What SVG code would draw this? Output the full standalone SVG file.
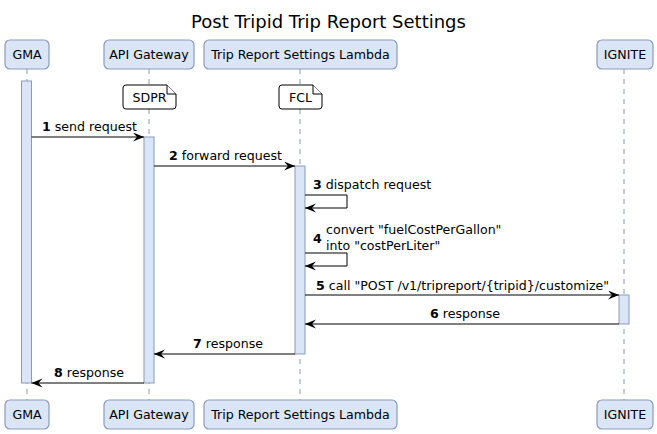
<svg xmlns="http://www.w3.org/2000/svg" width="657" height="434" viewBox="0 0 657 434">
<style>
text{font-family:"DejaVu Sans","Liberation Sans",sans-serif;font-size:12.6px;fill:#000}
.title{font-size:18px}
.box{fill:#dae6f8;stroke:#8b9bb6;stroke-width:1.2}
.act{fill:#dae6f8;stroke:#8b9bb6;stroke-width:1}
.life{stroke:#8b9bb6;stroke-width:1;stroke-dasharray:5,5}
.msg{stroke:#000;stroke-width:1;fill:none}
.note{fill:#fff;stroke:#000;stroke-width:1}
.b{font-weight:bold}
</style>
<defs>
<marker id="ah" markerUnits="userSpaceOnUse" markerWidth="12" markerHeight="10" refX="11" refY="4.5" orient="auto" viewBox="0 0 12 10">
<path d="M0,0 L11,4.5 L0,9 L4,4.5 Z" fill="#000"/>
</marker>
</defs>
<rect width="657" height="434" fill="#fff"/>
<text class="title" x="328.5" y="28" text-anchor="middle">Post Tripid Trip Report Settings</text>

<g id="lifelines">
<line class="life" x1="27" y1="69" x2="27" y2="400"/>
<line class="life" x1="149" y1="69" x2="149" y2="400"/>
<line class="life" x1="300" y1="69" x2="300" y2="400"/>
<line class="life" x1="624" y1="69" x2="624" y2="400"/>
</g>

<g id="GMA">
<rect class="box" x="5" y="40" width="44" height="29" rx="5"/>
<text x="27" y="59" text-anchor="middle">GMA</text>
<rect class="act" x="21.5" y="81" width="10" height="302"/>
<rect class="box" x="5" y="400" width="44" height="29" rx="5"/>
<text x="27" y="419" text-anchor="middle">GMA</text>
</g>
<g id="APIGateway">
<rect class="box" x="104" y="40" width="90" height="29" rx="5"/>
<text x="149" y="59" text-anchor="middle">API Gateway</text>
<rect class="act" x="144" y="137" width="10" height="246"/>
<rect class="box" x="104" y="400" width="90" height="29" rx="5"/>
<text x="149" y="419" text-anchor="middle">API Gateway</text>
</g>
<g id="Lambda">
<rect class="box" x="204" y="40" width="193" height="29" rx="5"/>
<text x="300.5" y="59" text-anchor="middle">Trip Report Settings Lambda</text>
<rect class="act" x="295" y="166" width="10" height="188"/>
<rect class="box" x="204" y="400" width="193" height="29" rx="5"/>
<text x="300.5" y="419" text-anchor="middle">Trip Report Settings Lambda</text>
</g>
<g id="IGNITE">
<rect class="box" x="597" y="40" width="56" height="29" rx="5"/>
<text x="625" y="59" text-anchor="middle">IGNITE</text>
<rect class="act" x="619" y="295" width="10" height="29"/>
<rect class="box" x="597" y="400" width="56" height="29" rx="5"/>
<text x="625" y="419" text-anchor="middle">IGNITE</text>
</g>

<g id="noteSDPR">
<path class="note" d="M126,85 L167,85 L176,94 L176,106 Q176,109 173,109 L126,109 Q123,109 123,106 L123,88 Q123,85 126,85 Z"/>
<path class="note" d="M167,85 L167,94 L176,94"/>
<text x="149.5" y="102" text-anchor="middle">SDPR</text>
</g>
<g id="noteFCL">
<path class="note" d="M282,85 L313,85 L322,94 L322,106 Q322,109 319,109 L282,109 Q279,109 279,106 L279,88 Q279,85 282,85 Z"/>
<path class="note" d="M313,85 L313,94 L322,94"/>
<text x="300.5" y="102" text-anchor="middle">FCL</text>
</g>

<g id="connectors">
<line class="msg" x1="31.5" y1="137" x2="144" y2="137" marker-end="url(#ah)"/>
<line class="msg" x1="154" y1="166" x2="295" y2="166" marker-end="url(#ah)"/>
<polyline class="msg" points="305,195 347,195 347,208 305,208" marker-end="url(#ah)"/>
<polyline class="msg" points="305,253 347,253 347,266 305,266" marker-end="url(#ah)"/>
<line class="msg" x1="305" y1="295" x2="619" y2="295" marker-end="url(#ah)"/>
<line class="msg" x1="619" y1="324" x2="305" y2="324" marker-end="url(#ah)"/>
<line class="msg" x1="295" y1="354" x2="154" y2="354" marker-end="url(#ah)"/>
<line class="msg" x1="144" y1="383" x2="31.5" y2="383" marker-end="url(#ah)"/>
</g>

<g id="labels">
<text x="42" y="131"><tspan class="b">1</tspan> send request</text>
<text x="169" y="160"><tspan class="b">2</tspan> forward request</text>
<text x="313" y="189"><tspan class="b">3</tspan> dispatch request</text>
<text x="313" y="243" class="b">4</text>
<text x="326" y="234">convert "fuelCostPerGallon"</text>
<text x="326" y="250">into "costPerLiter"</text>
<text x="316" y="290"><tspan class="b">5</tspan> call "POST /v1/tripreport/{tripid}/customize"</text>
<text x="430" y="318"><tspan class="b">6</tspan> response</text>
<text x="193" y="348"><tspan class="b">7</tspan> response</text>
<text x="54" y="377"><tspan class="b">8</tspan> response</text>
</g>
</svg>
